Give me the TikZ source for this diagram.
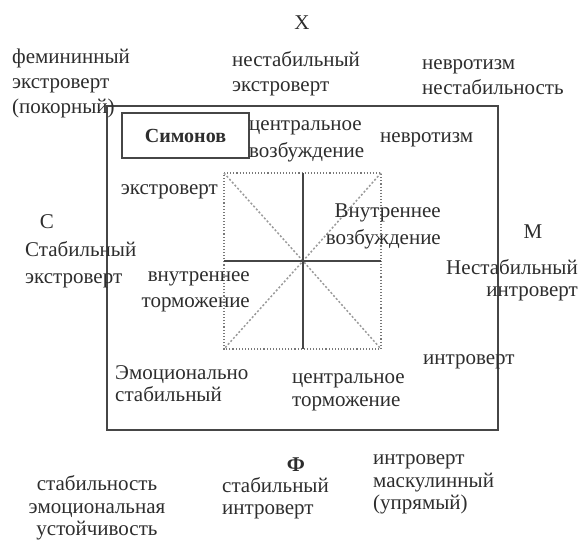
\documentclass[tikz,border=0pt]{standalone}
\usepackage{fontspec}
\setmainfont{Liberation Serif}
\definecolor{ink}{RGB}{45,45,45}
\definecolor{lineink}{RGB}{70,70,70}
\definecolor{dotink}{RGB}{120,120,120}
\begin{document}
\begin{tikzpicture}[x=1pt,y=-1pt,
  lbl/.style={inner sep=0pt,text=ink,font=\fontsize{21}{25}\selectfont},
  lblL/.style={lbl,align=left},
  lblR/.style={lbl,align=right},
  lblC/.style={lbl,align=center},
  frame/.style={draw=lineink,line width=1.8pt},
  namebox/.style={draw=lineink,line width=2.4pt,minimum width=127pt,minimum height=45pt,inner sep=0pt,text=ink,font=\fontsize{20}{25}\selectfont\bfseries},
  cross/.style={draw=lineink,line width=1.6pt},
  dotsq/.style={draw=dotink,line width=1.1pt,dotted},
  diag/.style={draw=dotink!75,line width=1.5pt,dash pattern=on 2pt off 2pt}
]
\useasboundingbox (0,0) rectangle (579,539);
% frame
\coordinate (F1) at (107,106);
\coordinate (F2) at (498,430);
\draw[frame] (F1) rectangle (F2);
% inner square
\coordinate (TL) at (224,173);
\coordinate (TR) at (381,173);
\coordinate (BL) at (224,349);
\coordinate (BR) at (381,349);
\coordinate (TM) at (303,173);
\coordinate (BM) at (303,349);
\coordinate (LM) at (224,261);
\coordinate (RM) at (381,261);
\coordinate (O) at (303,261);
\draw[dotsq] (TL) -- (TR) -- (BR) -- (BL) -- cycle;
\draw[diag] (TL) -- (O) -- (BR);
\draw[diag] (TR) -- (O) -- (BL);
\draw[cross] (TM) -- (BM);
\draw[cross] (LM) -- (RM);
% Simonov box
\node[namebox] (sim) at (185.5,135.5) {Симонов};
% labels
\node[lblC] (X) at (302,23) {X};
\node[lblL,anchor=west] (fem) at (12,83) {фемининный\\экстроверт\\(покорный)};
\node[lblL,anchor=west] (nest) at (232,73.5) {нестабильный\\экстроверт};
\node[lblL,anchor=west] (nevr) at (422,77) {невротизм\\нестабильность};
\node[lblL,anchor=west,font=\fontsize{21}{27}\selectfont] (cvoz) at (249,141.5) {центральное\\возбуждение};
\node[lbl,anchor=west] (nevr2) at (380,140) {невротизм};
\node[lbl,anchor=east] (ekstr) at (218,192) {экстроверт};
\node[lblC] (C) at (47,222) {С};
\node[lblL,anchor=west,font=\fontsize{21}{27}\selectfont] (stabe) at (25,264.5) {Стабильный\\экстроверт};
\node[lblR,anchor=east,font=\fontsize{21}{26}\selectfont] (vtor) at (250,292) {внутреннее\\торможение};
\node[lblR,anchor=east,font=\fontsize{21}{27}\selectfont] (vvoz) at (441,226.5) {Внутреннее\\возбуждение};
\node[lblC] (M) at (533,232) {M};
\node[lblR,anchor=east,font=\fontsize{21}{22}\selectfont] (nesti) at (578,280) {Нестабильный\\интроверт};
\node[lbl,anchor=west] (intr) at (423,362) {интроверт};
\node[lblL,anchor=west,font=\fontsize{21}{22}\selectfont] (emst) at (115,384) {Эмоционально\\стабильный};
\node[lblL,anchor=west,font=\fontsize{21}{23}\selectfont] (ctor) at (292,392.5) {центральное\\торможение};
\node[lblC,font=\fontsize{21}{25}\selectfont\bfseries] (F) at (296,465) {Ф};
\node[lblC,font=\fontsize{21}{22.5}\selectfont] (stust) at (97,508) {стабильность\\эмоциональная\\устойчивость};
\node[lblL,anchor=west,font=\fontsize{21}{22}\selectfont] (stint) at (222,498) {стабильный\\интроверт};
\node[lblL,anchor=west,font=\fontsize{21}{22.5}\selectfont] (inmask) at (373,484.5) {интроверт\\маскулинный\\(упрямый)};
\end{tikzpicture}
\end{document}
